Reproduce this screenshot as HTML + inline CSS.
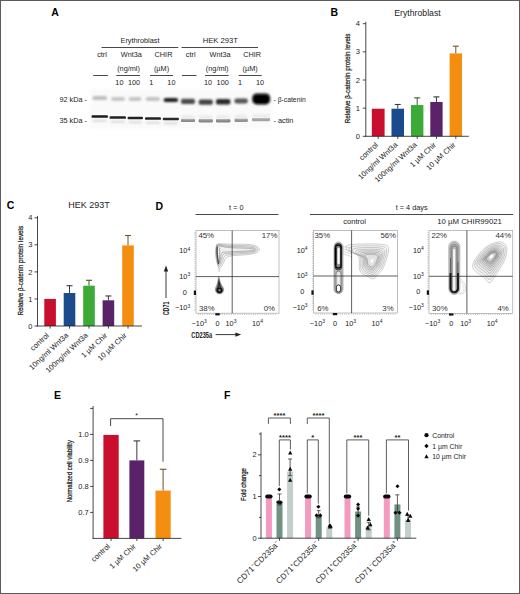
<!DOCTYPE html>
<html><head><meta charset="utf-8"><title>Figure</title>
<style>
html,body{margin:0;padding:0;background:#fff;}
body{width:520px;height:594px;overflow:hidden;font-family:"Liberation Sans",sans-serif;}
svg{display:block;font-family:"Liberation Sans",sans-serif;}
</style></head><body>
<svg width="520" height="594" viewBox="0 0 520 594">
<defs>
<filter id="b0" x="-5%" y="-5%" width="110%" height="110%"><feGaussianBlur stdDeviation="0.15"/></filter>
<filter id="b3" x="-30%" y="-10%" width="160%" height="120%"><feGaussianBlur stdDeviation="0.45"/></filter>
<filter id="b4" x="-20%" y="-80%" width="140%" height="260%"><feGaussianBlur stdDeviation="0.7"/></filter>
<filter id="b5" x="-40%" y="-10%" width="180%" height="120%"><feGaussianBlur stdDeviation="0.3"/></filter>
<filter id="b1" x="-20%" y="-60%" width="140%" height="220%"><feGaussianBlur stdDeviation="0.9"/></filter>
<filter id="b2" x="-5%" y="-10%" width="110%" height="120%"><feGaussianBlur stdDeviation="1.5"/></filter>
</defs>
<rect x="0.5" y="0.5" width="519" height="593" fill="#fff" stroke="#5a5a5a" stroke-width="1"/>
<line x1="5.50" y1="8.00" x2="5.50" y2="586.00" stroke="#f8f8f8" stroke-width="1" />
<line x1="514.50" y1="8.00" x2="514.50" y2="586.00" stroke="#f8f8f8" stroke-width="1" />
<text x="51.30" y="16.00" font-size="10.5" text-anchor="start" font-weight="bold" fill="#000" >A</text>
<text x="330.60" y="16.00" font-size="10.5" text-anchor="start" font-weight="bold" fill="#000" >B</text>
<text x="6.70" y="208.90" font-size="10.5" text-anchor="start" font-weight="bold" fill="#000" >C</text>
<text x="155.60" y="209.50" font-size="10.5" text-anchor="start" font-weight="bold" fill="#000" >D</text>
<text x="54.10" y="399.40" font-size="10.5" text-anchor="start" font-weight="bold" fill="#000" >E</text>
<text x="224.10" y="399.40" font-size="10.5" text-anchor="start" font-weight="bold" fill="#000" >F</text>
<text x="140.00" y="43.30" font-size="7.3" text-anchor="middle" font-weight="normal" fill="#1c1c1c" >Erythroblast</text>
<text x="220.30" y="43.30" font-size="7.6" text-anchor="middle" font-weight="normal" fill="#1c1c1c" >HEK 293T</text>
<line x1="101.50" y1="47.50" x2="178.20" y2="47.50" stroke="#1a1a1a" stroke-width="0.8" />
<line x1="181.50" y1="47.50" x2="258.00" y2="47.50" stroke="#1a1a1a" stroke-width="0.8" />
<text x="102.00" y="57.20" font-size="7.3" text-anchor="middle" font-weight="normal" fill="#1c1c1c" >ctrl</text>
<text x="131.40" y="57.20" font-size="7.3" text-anchor="middle" font-weight="normal" fill="#1c1c1c" >Wnt3a</text>
<text x="163.50" y="57.20" font-size="7.3" text-anchor="middle" font-weight="normal" fill="#1c1c1c" >CHIR</text>
<text x="128.50" y="71.00" font-size="7.3" text-anchor="middle" font-weight="normal" fill="#1c1c1c" >(ng/ml)</text>
<text x="161.50" y="71.00" font-size="7.3" text-anchor="middle" font-weight="normal" fill="#1c1c1c" >(µM)</text>
<line x1="93.20" y1="75.50" x2="107.80" y2="75.50" stroke="#1a1a1a" stroke-width="0.8" />
<line x1="116.30" y1="75.50" x2="140.00" y2="75.50" stroke="#1a1a1a" stroke-width="0.8" />
<line x1="150.00" y1="75.50" x2="173.00" y2="75.50" stroke="#1a1a1a" stroke-width="0.8" />
<text x="119.40" y="84.70" font-size="7.3" text-anchor="middle" font-weight="normal" fill="#1c1c1c" >10</text>
<text x="134.00" y="84.70" font-size="7.3" text-anchor="middle" font-weight="normal" fill="#1c1c1c" >100</text>
<text x="151.40" y="84.70" font-size="7.3" text-anchor="middle" font-weight="normal" fill="#1c1c1c" >1</text>
<text x="171.40" y="84.70" font-size="7.3" text-anchor="middle" font-weight="normal" fill="#1c1c1c" >10</text>
<text x="190.70" y="57.20" font-size="7.3" text-anchor="middle" font-weight="normal" fill="#1c1c1c" >ctrl</text>
<text x="220.10" y="57.20" font-size="7.3" text-anchor="middle" font-weight="normal" fill="#1c1c1c" >Wnt3a</text>
<text x="252.20" y="57.20" font-size="7.3" text-anchor="middle" font-weight="normal" fill="#1c1c1c" >CHIR</text>
<text x="217.20" y="71.00" font-size="7.3" text-anchor="middle" font-weight="normal" fill="#1c1c1c" >(ng/ml)</text>
<text x="250.20" y="71.00" font-size="7.3" text-anchor="middle" font-weight="normal" fill="#1c1c1c" >(µM)</text>
<line x1="181.90" y1="75.50" x2="196.50" y2="75.50" stroke="#1a1a1a" stroke-width="0.8" />
<line x1="205.00" y1="75.50" x2="228.70" y2="75.50" stroke="#1a1a1a" stroke-width="0.8" />
<line x1="238.70" y1="75.50" x2="261.70" y2="75.50" stroke="#1a1a1a" stroke-width="0.8" />
<text x="208.10" y="84.70" font-size="7.3" text-anchor="middle" font-weight="normal" fill="#1c1c1c" >10</text>
<text x="222.70" y="84.70" font-size="7.3" text-anchor="middle" font-weight="normal" fill="#1c1c1c" >100</text>
<text x="240.10" y="84.70" font-size="7.3" text-anchor="middle" font-weight="normal" fill="#1c1c1c" >1</text>
<text x="260.10" y="84.70" font-size="7.3" text-anchor="middle" font-weight="normal" fill="#1c1c1c" >10</text>
<text x="87.00" y="102.30" font-size="7.3" text-anchor="end" font-weight="normal" fill="#1c1c1c" >92 kDa -</text>
<text x="87.00" y="122.60" font-size="7.3" text-anchor="end" font-weight="normal" fill="#1c1c1c" >35 kDa -</text>
<text x="273.50" y="102.20" font-size="7.3" text-anchor="start" font-weight="normal" fill="#1c1c1c" textLength="32.2" lengthAdjust="spacingAndGlyphs">- β-catenin</text>
<text x="273.50" y="123.00" font-size="7.3" text-anchor="start" font-weight="normal" fill="#1c1c1c" >- actin</text>
<rect x="90" y="89" width="182" height="40" fill="#fafafa" filter="url(#b2)"/>
<rect x="92.5" y="96.0" width="14.5" height="4.0" rx="1.8" fill="#bebebe" filter="url(#b1)"/>
<rect x="111" y="97.1" width="14" height="3.8" rx="1.8" fill="#c6c6c6" filter="url(#b1)"/>
<rect x="128.7" y="97.1" width="12.800000000000011" height="3.8" rx="1.8" fill="#c4c4c4" filter="url(#b1)"/>
<rect x="145.7" y="97.1" width="14.300000000000011" height="3.8" rx="1.8" fill="#c2c2c2" filter="url(#b1)"/>
<rect x="163.7" y="98.0" width="14.300000000000011" height="4.0" rx="1.8" fill="#1e1e1e" filter="url(#b1)"/>
<rect x="181" y="98.80000000000001" width="14" height="5.2" rx="1.8" fill="#4c4c4c" filter="url(#b1)"/>
<rect x="198.7" y="99.60000000000001" width="14.100000000000023" height="5.2" rx="1.8" fill="#424242" filter="url(#b1)"/>
<rect x="216" y="99.1" width="14.400000000000006" height="5.4" rx="1.8" fill="#2c2c2c" filter="url(#b1)"/>
<rect x="234.5" y="98.6" width="13.300000000000011" height="4.8" rx="1.8" fill="#555" filter="url(#b1)"/>
<rect x="252.2" y="93.4" width="18" height="11.0" rx="4.5" fill="#0a0a0a" filter="url(#b1)"/>
<rect x="254.5" y="96.0" width="13.4" height="6.4" rx="3" fill="#000" filter="url(#b4)"/>
<rect x="91.5" y="115.35" width="16.5" height="2.5" rx="1.2" fill="#1c1c1c" filter="url(#b4)"/>
<rect x="92.5" y="119.8" width="14.5" height="2" rx="1" fill="#d8d8d8" filter="url(#b1)"/>
<rect x="109.5" y="116.35" width="16.5" height="2.5" rx="1.2" fill="#202020" filter="url(#b4)"/>
<rect x="110.5" y="120.8" width="14.5" height="2" rx="1" fill="#d8d8d8" filter="url(#b1)"/>
<rect x="127.5" y="116.75" width="15.5" height="2.5" rx="1.2" fill="#202020" filter="url(#b4)"/>
<rect x="128.5" y="121.2" width="13.5" height="2" rx="1" fill="#d8d8d8" filter="url(#b1)"/>
<rect x="145" y="117.35" width="16" height="2.5" rx="1.2" fill="#242424" filter="url(#b4)"/>
<rect x="146" y="121.8" width="14" height="2" rx="1" fill="#d8d8d8" filter="url(#b1)"/>
<rect x="162.7" y="117.75" width="16.30000000000001" height="2.5" rx="1.2" fill="#2a2a2a" filter="url(#b4)"/>
<rect x="163.7" y="122.2" width="14.300000000000011" height="2" rx="1" fill="#d8d8d8" filter="url(#b1)"/>
<rect x="181" y="118.7" width="14" height="3.4" rx="1.2" fill="#8a8a8a" filter="url(#b4)"/>
<rect x="181" y="114.9" width="14" height="4" rx="2" fill="#ececec" filter="url(#b1)"/>
<rect x="198.7" y="119.1" width="14.100000000000023" height="3.4" rx="1.2" fill="#858585" filter="url(#b4)"/>
<rect x="198.7" y="115.3" width="14.100000000000023" height="4" rx="2" fill="#ececec" filter="url(#b1)"/>
<rect x="216" y="119.1" width="14.400000000000006" height="3.4" rx="1.2" fill="#838383" filter="url(#b4)"/>
<rect x="216" y="115.3" width="14.400000000000006" height="4" rx="2" fill="#ececec" filter="url(#b1)"/>
<rect x="234.5" y="118.5" width="13.300000000000011" height="3.4" rx="1.2" fill="#909090" filter="url(#b4)"/>
<rect x="234.5" y="114.7" width="13.300000000000011" height="4" rx="2" fill="#ececec" filter="url(#b1)"/>
<rect x="252" y="118.0" width="18" height="3.2" rx="1.2" fill="#a2a2a2" filter="url(#b4)"/>
<rect x="252" y="114.1" width="18" height="4" rx="2" fill="#ececec" filter="url(#b1)"/>
<rect x="371.80" y="108.71" width="12.80" height="27.59" fill="#c8102e" />
<line x1="397.75" y1="108.71" x2="397.75" y2="104.49" stroke="#2f3d51" stroke-width="1.0" />
<line x1="394.75" y1="104.49" x2="400.75" y2="104.49" stroke="#2f3d51" stroke-width="1.1" />
<rect x="391.50" y="108.71" width="12.50" height="27.59" fill="#1b4b8c" />
<line x1="417.20" y1="105.05" x2="417.20" y2="97.88" stroke="#395a37" stroke-width="1.0" />
<line x1="414.20" y1="97.88" x2="420.20" y2="97.88" stroke="#395a37" stroke-width="1.1" />
<rect x="411.00" y="105.05" width="12.40" height="31.25" fill="#3caa37" />
<line x1="436.45" y1="101.96" x2="436.45" y2="96.89" stroke="#423146" stroke-width="1.0" />
<line x1="433.45" y1="96.89" x2="439.45" y2="96.89" stroke="#423146" stroke-width="1.1" />
<rect x="430.30" y="101.96" width="12.30" height="34.34" fill="#5a2369" />
<line x1="455.80" y1="53.40" x2="455.80" y2="46.22" stroke="#70512b" stroke-width="1.0" />
<line x1="452.80" y1="46.22" x2="458.80" y2="46.22" stroke="#70512b" stroke-width="1.1" />
<rect x="449.60" y="53.40" width="12.40" height="82.90" fill="#f48e10" />
<line x1="365.80" y1="21.80" x2="365.80" y2="136.70" stroke="#1a1a1a" stroke-width="0.8" />
<line x1="365.40" y1="136.30" x2="468.80" y2="136.30" stroke="#1a1a1a" stroke-width="0.8" />
<line x1="362.80" y1="136.30" x2="365.80" y2="136.30" stroke="#1a1a1a" stroke-width="0.8" />
<text x="359.80" y="138.90" font-size="7.5" text-anchor="end" font-weight="normal" fill="#1c1c1c" >0</text>
<line x1="362.80" y1="108.15" x2="365.80" y2="108.15" stroke="#1a1a1a" stroke-width="0.8" />
<text x="359.80" y="110.75" font-size="7.5" text-anchor="end" font-weight="normal" fill="#1c1c1c" >1</text>
<line x1="362.80" y1="80.00" x2="365.80" y2="80.00" stroke="#1a1a1a" stroke-width="0.8" />
<text x="359.80" y="82.60" font-size="7.5" text-anchor="end" font-weight="normal" fill="#1c1c1c" >2</text>
<line x1="362.80" y1="51.85" x2="365.80" y2="51.85" stroke="#1a1a1a" stroke-width="0.8" />
<text x="359.80" y="54.45" font-size="7.5" text-anchor="end" font-weight="normal" fill="#1c1c1c" >3</text>
<line x1="362.80" y1="23.70" x2="365.80" y2="23.70" stroke="#1a1a1a" stroke-width="0.8" />
<text x="359.80" y="26.30" font-size="7.5" text-anchor="end" font-weight="normal" fill="#1c1c1c" >4</text>
<line x1="378.20" y1="136.30" x2="378.20" y2="138.90" stroke="#1a1a1a" stroke-width="0.8" />
<text transform="translate(378.40,145.50) rotate(-43) scale(1.0,1)" font-size="7.5" text-anchor="end" font-weight="normal" fill="#1c1c1c">control</text>
<line x1="397.75" y1="136.30" x2="397.75" y2="138.90" stroke="#1a1a1a" stroke-width="0.8" />
<text transform="translate(397.95,145.50) rotate(-43) scale(1.0,1)" font-size="7.5" text-anchor="end" font-weight="normal" fill="#1c1c1c">10ng/ml Wnt3a</text>
<line x1="417.20" y1="136.30" x2="417.20" y2="138.90" stroke="#1a1a1a" stroke-width="0.8" />
<text transform="translate(417.40,145.50) rotate(-43) scale(1.0,1)" font-size="7.5" text-anchor="end" font-weight="normal" fill="#1c1c1c">100ng/ml Wnt3a</text>
<line x1="436.45" y1="136.30" x2="436.45" y2="138.90" stroke="#1a1a1a" stroke-width="0.8" />
<text transform="translate(436.65,145.50) rotate(-43) scale(1.0,1)" font-size="7.5" text-anchor="end" font-weight="normal" fill="#1c1c1c">1 µM Chir</text>
<line x1="455.80" y1="136.30" x2="455.80" y2="138.90" stroke="#1a1a1a" stroke-width="0.8" />
<text transform="translate(456.00,145.50) rotate(-43) scale(1.0,1)" font-size="7.5" text-anchor="end" font-weight="normal" fill="#1c1c1c">10 µM Chir</text>
<text x="417.50" y="15.80" font-size="8.7" text-anchor="middle" font-weight="normal" fill="#1c1c1c" >Erythroblast</text>
<text transform="translate(350.40,78.40) rotate(-90) scale(0.856,1)" font-size="7.4" text-anchor="middle" font-weight="normal" fill="#1c1c1c" stroke="#1c1c1c" stroke-width="0.25">Relative β-catenin protein levels</text>
<rect x="44.30" y="298.95" width="11.60" height="27.05" fill="#c8102e" />
<line x1="69.50" y1="293.00" x2="69.50" y2="285.70" stroke="#2f3d51" stroke-width="1.0" />
<line x1="66.50" y1="285.70" x2="72.50" y2="285.70" stroke="#2f3d51" stroke-width="1.1" />
<rect x="63.70" y="293.00" width="11.60" height="33.00" fill="#1b4b8c" />
<line x1="89.00" y1="285.70" x2="89.00" y2="280.29" stroke="#395a37" stroke-width="1.0" />
<line x1="86.00" y1="280.29" x2="92.00" y2="280.29" stroke="#395a37" stroke-width="1.1" />
<rect x="83.20" y="285.70" width="11.60" height="40.30" fill="#3caa37" />
<line x1="108.40" y1="300.30" x2="108.40" y2="295.97" stroke="#423146" stroke-width="1.0" />
<line x1="105.40" y1="295.97" x2="111.40" y2="295.97" stroke="#423146" stroke-width="1.1" />
<rect x="102.60" y="300.30" width="11.60" height="25.70" fill="#5a2369" />
<line x1="128.00" y1="245.39" x2="128.00" y2="235.52" stroke="#70512b" stroke-width="1.0" />
<line x1="125.00" y1="235.52" x2="131.00" y2="235.52" stroke="#70512b" stroke-width="1.1" />
<rect x="122.20" y="245.39" width="11.60" height="80.61" fill="#f48e10" />
<line x1="37.50" y1="215.90" x2="37.50" y2="326.40" stroke="#1a1a1a" stroke-width="0.8" />
<line x1="37.10" y1="326.00" x2="142.00" y2="326.00" stroke="#1a1a1a" stroke-width="0.8" />
<line x1="34.50" y1="326.00" x2="37.50" y2="326.00" stroke="#1a1a1a" stroke-width="0.8" />
<text x="32.50" y="328.60" font-size="7.5" text-anchor="end" font-weight="normal" fill="#1c1c1c" >0</text>
<line x1="34.50" y1="298.95" x2="37.50" y2="298.95" stroke="#1a1a1a" stroke-width="0.8" />
<text x="32.50" y="301.55" font-size="7.5" text-anchor="end" font-weight="normal" fill="#1c1c1c" >1</text>
<line x1="34.50" y1="271.90" x2="37.50" y2="271.90" stroke="#1a1a1a" stroke-width="0.8" />
<text x="32.50" y="274.50" font-size="7.5" text-anchor="end" font-weight="normal" fill="#1c1c1c" >2</text>
<line x1="34.50" y1="244.85" x2="37.50" y2="244.85" stroke="#1a1a1a" stroke-width="0.8" />
<text x="32.50" y="247.45" font-size="7.5" text-anchor="end" font-weight="normal" fill="#1c1c1c" >3</text>
<line x1="34.50" y1="217.80" x2="37.50" y2="217.80" stroke="#1a1a1a" stroke-width="0.8" />
<text x="32.50" y="220.40" font-size="7.5" text-anchor="end" font-weight="normal" fill="#1c1c1c" >4</text>
<line x1="50.10" y1="326.00" x2="50.10" y2="328.60" stroke="#1a1a1a" stroke-width="0.8" />
<text transform="translate(49.50,336.00) rotate(-43) scale(1.0,1)" font-size="7.5" text-anchor="end" font-weight="normal" fill="#1c1c1c">control</text>
<line x1="69.50" y1="326.00" x2="69.50" y2="328.60" stroke="#1a1a1a" stroke-width="0.8" />
<text transform="translate(68.90,336.00) rotate(-43) scale(1.0,1)" font-size="7.5" text-anchor="end" font-weight="normal" fill="#1c1c1c">10ng/ml Wnt3a</text>
<line x1="89.00" y1="326.00" x2="89.00" y2="328.60" stroke="#1a1a1a" stroke-width="0.8" />
<text transform="translate(88.40,336.00) rotate(-43) scale(1.0,1)" font-size="7.5" text-anchor="end" font-weight="normal" fill="#1c1c1c">100ng/ml Wnt3a</text>
<line x1="108.40" y1="326.00" x2="108.40" y2="328.60" stroke="#1a1a1a" stroke-width="0.8" />
<text transform="translate(107.80,336.00) rotate(-43) scale(1.0,1)" font-size="7.5" text-anchor="end" font-weight="normal" fill="#1c1c1c">1 µM Chir</text>
<line x1="128.00" y1="326.00" x2="128.00" y2="328.60" stroke="#1a1a1a" stroke-width="0.8" />
<text transform="translate(127.40,336.00) rotate(-43) scale(1.0,1)" font-size="7.5" text-anchor="end" font-weight="normal" fill="#1c1c1c">10 µM Chir</text>
<text x="89.00" y="208.30" font-size="9.0" text-anchor="middle" font-weight="normal" fill="#1c1c1c" >HEK 293T</text>
<text transform="translate(22.50,270.70) rotate(-90) scale(0.856,1)" font-size="7.4" text-anchor="middle" font-weight="normal" fill="#1c1c1c" stroke="#1c1c1c" stroke-width="0.25">Relative β-catenin protein levels</text>
<rect x="103.40" y="434.92" width="15.30" height="103.48" fill="#c8102e" />
<line x1="136.85" y1="460.40" x2="136.85" y2="440.90" stroke="#423146" stroke-width="1.0" />
<line x1="133.60" y1="440.90" x2="140.10" y2="440.90" stroke="#423146" stroke-width="1.1" />
<rect x="129.40" y="460.40" width="14.90" height="78.00" fill="#5a2369" />
<line x1="163.10" y1="490.56" x2="163.10" y2="469.24" stroke="#70512b" stroke-width="1.0" />
<line x1="159.85" y1="469.24" x2="166.35" y2="469.24" stroke="#70512b" stroke-width="1.1" />
<rect x="155.50" y="490.56" width="15.20" height="47.84" fill="#f48e10" />
<line x1="93.10" y1="406.00" x2="93.10" y2="538.80" stroke="#1a1a1a" stroke-width="0.8" />
<line x1="92.70" y1="538.40" x2="181.40" y2="538.40" stroke="#1a1a1a" stroke-width="0.8" />
<line x1="90.10" y1="512.40" x2="93.10" y2="512.40" stroke="#1a1a1a" stroke-width="0.8" />
<text x="88.70" y="515.00" font-size="7.5" text-anchor="end" font-weight="normal" fill="#1c1c1c" >0.7</text>
<line x1="90.10" y1="486.40" x2="93.10" y2="486.40" stroke="#1a1a1a" stroke-width="0.8" />
<text x="88.70" y="489.00" font-size="7.5" text-anchor="end" font-weight="normal" fill="#1c1c1c" >0.8</text>
<line x1="90.10" y1="460.40" x2="93.10" y2="460.40" stroke="#1a1a1a" stroke-width="0.8" />
<text x="88.70" y="463.00" font-size="7.5" text-anchor="end" font-weight="normal" fill="#1c1c1c" >0.9</text>
<line x1="90.10" y1="434.40" x2="93.10" y2="434.40" stroke="#1a1a1a" stroke-width="0.8" />
<text x="88.70" y="437.00" font-size="7.5" text-anchor="end" font-weight="normal" fill="#1c1c1c" >1.0</text>
<line x1="90.10" y1="408.40" x2="93.10" y2="408.40" stroke="#1a1a1a" stroke-width="0.8" />
<line x1="111.05" y1="538.40" x2="111.05" y2="541.00" stroke="#1a1a1a" stroke-width="0.8" />
<text transform="translate(110.45,547.00) rotate(-43) scale(1.0,1)" font-size="7.5" text-anchor="end" font-weight="normal" fill="#1c1c1c">control</text>
<line x1="136.85" y1="538.40" x2="136.85" y2="541.00" stroke="#1a1a1a" stroke-width="0.8" />
<text transform="translate(136.25,547.00) rotate(-43) scale(1.0,1)" font-size="7.5" text-anchor="end" font-weight="normal" fill="#1c1c1c">1 µM Chir</text>
<line x1="163.10" y1="538.40" x2="163.10" y2="541.00" stroke="#1a1a1a" stroke-width="0.8" />
<text transform="translate(162.50,547.00) rotate(-43) scale(1.0,1)" font-size="7.5" text-anchor="end" font-weight="normal" fill="#1c1c1c">10 µM Chir</text>
<text transform="translate(72.00,471.20) rotate(-90) scale(0.81,1)" font-size="7.4" text-anchor="middle" font-weight="normal" fill="#1c1c1c" stroke="#1c1c1c" stroke-width="0.25">Normalized cell viability</text>
<path d="M110.6 426 V418.7 H163 V461.7" fill="none" stroke="#333" stroke-width="0.9"/>
<text x="136.70" y="418.20" font-size="7" text-anchor="middle" font-weight="normal" fill="#1c1c1c" >*</text>
<text x="236.30" y="210.00" font-size="7.3" text-anchor="middle" font-weight="normal" fill="#1c1c1c" >t = 0</text>
<line x1="195.50" y1="214.50" x2="278.50" y2="214.50" stroke="#1a1a1a" stroke-width="0.8" />
<text x="411.70" y="210.00" font-size="7.3" text-anchor="middle" font-weight="normal" fill="#1c1c1c" >t = 4 days</text>
<line x1="310.00" y1="214.50" x2="513.20" y2="214.50" stroke="#1a1a1a" stroke-width="0.8" />
<text x="354.60" y="224.40" font-size="7.6" text-anchor="middle" font-weight="normal" fill="#1c1c1c" >control</text>
<text x="469.60" y="224.40" font-size="7.8" text-anchor="middle" font-weight="normal" fill="#1c1c1c" >10 µM CHIR99021</text>
<g filter="url(#b0)">
<path d="M216.20 246.00 C216.68 244.30 216.20 244.10 218.50 243.80 C220.80 243.50 225.58 244.12 230.00 244.20 C234.42 244.28 240.83 244.08 245.00 244.30 C249.17 244.52 252.60 244.65 255.00 245.50 C257.40 246.35 259.40 248.12 259.40 249.40 C259.40 250.68 257.40 252.30 255.00 253.20 C252.60 254.10 248.83 254.37 245.00 254.80 C241.17 255.23 235.17 255.27 232.00 255.80 C228.83 256.33 227.43 256.80 226.00 258.00 C224.57 259.20 224.50 261.27 223.40 263.00 C222.30 264.73 220.50 268.57 219.40 268.40 C218.30 268.23 217.43 264.40 216.80 262.00 C216.17 259.60 215.70 256.67 215.60 254.00 C215.50 251.33 215.72 247.70 216.20 246.00Z" fill="rgba(120,120,120,0.03)" stroke="#989898" stroke-width="0.50"/>
<path d="M216.55 246.50 C216.96 245.00 216.37 244.70 218.53 244.50 C220.68 244.30 225.21 245.12 229.50 245.30 C233.79 245.48 240.21 245.37 244.25 245.58 C248.29 245.78 251.49 245.88 253.75 246.53 C256.01 247.17 257.80 248.48 257.80 249.45 C257.80 250.42 256.01 251.66 253.75 252.35 C251.49 253.04 248.04 253.24 244.25 253.60 C240.46 253.96 234.27 254.06 231.00 254.50 C227.73 254.94 226.08 255.12 224.65 256.25 C223.22 257.38 223.36 259.49 222.45 261.25 C221.54 263.01 220.10 266.88 219.20 266.80 C218.30 266.72 217.58 262.97 217.05 260.75 C216.53 258.53 216.13 255.88 216.05 253.50 C215.97 251.12 216.14 248.00 216.55 246.50Z" fill="rgba(120,120,120,0.03)" stroke="#8a8a8a" stroke-width="0.50"/>
<path d="M216.90 247.00 C217.24 245.70 216.53 245.30 218.55 245.20 C220.57 245.10 224.84 246.12 229.00 246.40 C233.16 246.67 239.58 246.66 243.50 246.85 C247.42 247.04 250.38 247.11 252.50 247.55 C254.62 247.99 256.20 248.84 256.20 249.50 C256.20 250.16 254.62 251.02 252.50 251.50 C250.38 251.98 247.25 252.12 243.50 252.40 C239.75 252.68 233.37 252.85 230.00 253.20 C226.63 253.55 224.72 253.45 223.30 254.50 C221.88 255.55 222.22 257.72 221.50 259.50 C220.78 261.28 219.70 265.20 219.00 265.20 C218.30 265.20 217.72 261.53 217.30 259.50 C216.88 257.47 216.57 255.08 216.50 253.00 C216.43 250.92 216.56 248.30 216.90 247.00Z" fill="rgba(120,120,120,0.03)" stroke="#7d7d7d" stroke-width="0.50"/>
<path d="M217.25 247.50 C217.52 246.40 216.70 245.90 218.57 245.90 C220.45 245.90 224.47 247.13 228.50 247.50 C232.53 247.87 238.96 247.95 242.75 248.12 C246.54 248.30 249.28 248.34 251.25 248.57 C253.22 248.81 254.60 249.20 254.60 249.55 C254.60 249.90 253.22 250.38 251.25 250.65 C249.28 250.93 246.46 250.99 242.75 251.20 C239.04 251.41 232.47 251.64 229.00 251.90 C225.53 252.16 223.36 251.78 221.95 252.75 C220.54 253.72 221.08 255.94 220.55 257.75 C220.03 259.56 219.30 263.52 218.80 263.60 C218.30 263.68 217.86 260.10 217.55 258.25 C217.24 256.40 217.00 254.29 216.95 252.50 C216.90 250.71 216.98 248.60 217.25 247.50Z" fill="rgba(120,120,120,0.03)" stroke="#707070" stroke-width="0.50"/>
<path d="M217.4 246.5 C216.8 252 217.4 258 218.6 264" fill="none" stroke="#333" stroke-width="1.5" opacity="0.75"/>
<path d="M219.6 247.5 C219.4 252 219.8 257 219.6 262" fill="none" stroke="#666" stroke-width="0.8" opacity="0.6"/>
<path d="M218.6 268 L218.9 272 M219.6 268 L219.3 272" fill="none" stroke="#bbb" stroke-width="0.5"/>
<path d="M218.70 276.60 C219.00 276.60 219.32 279.60 219.80 281.00 C220.28 282.40 220.95 283.67 221.60 285.00 C222.25 286.33 223.52 287.73 223.70 289.00 C223.88 290.27 223.40 291.78 222.70 292.60 C222.00 293.42 220.57 293.90 219.50 293.90 C218.43 293.90 217.00 293.42 216.30 292.60 C215.60 291.78 215.22 290.27 215.30 289.00 C215.38 287.73 216.35 286.33 216.80 285.00 C217.25 283.67 217.68 282.40 218.00 281.00 C218.32 279.60 218.40 276.60 218.70 276.60Z" fill="rgba(40,40,40,0.16)" stroke="#909090" stroke-width="0.65"/>
<path d="M218.79 278.11 C219.04 278.11 219.31 280.83 219.73 282.08 C220.14 283.33 220.71 284.45 221.28 285.63 C221.84 286.81 222.94 288.07 223.11 289.18 C223.27 290.29 222.85 291.60 222.25 292.31 C221.65 293.02 220.42 293.45 219.50 293.45 C218.58 293.45 217.35 293.02 216.75 292.31 C216.15 291.60 215.82 290.29 215.89 289.18 C215.97 288.07 216.81 286.81 217.20 285.63 C217.58 284.45 217.95 283.33 218.22 282.08 C218.48 280.83 218.54 278.11 218.79 278.11Z" fill="rgba(40,40,40,0.16)" stroke="#747474" stroke-width="0.71"/>
<path d="M218.88 279.62 C219.08 279.62 219.31 282.05 219.66 283.16 C220.00 284.27 220.48 285.23 220.95 286.26 C221.43 287.29 222.37 288.40 222.51 289.36 C222.65 290.32 222.30 291.42 221.80 292.02 C221.30 292.63 220.27 293.00 219.50 293.00 C218.73 293.00 217.70 292.63 217.20 292.02 C216.70 291.42 216.42 290.32 216.49 289.36 C216.55 288.40 217.27 287.29 217.59 286.26 C217.92 285.23 218.22 284.27 218.43 283.16 C218.65 282.05 218.68 279.62 218.88 279.62Z" fill="rgba(40,40,40,0.16)" stroke="#585858" stroke-width="0.78"/>
<path d="M218.97 281.14 C219.13 281.14 219.31 283.28 219.58 284.24 C219.86 285.20 220.24 286.01 220.63 286.89 C221.02 287.77 221.80 288.73 221.92 289.54 C222.04 290.35 221.75 291.23 221.35 291.74 C220.95 292.24 220.12 292.55 219.50 292.55 C218.88 292.55 218.05 292.24 217.65 291.74 C217.25 291.23 217.03 290.35 217.08 289.54 C217.14 288.73 217.73 287.77 217.99 286.89 C218.25 286.01 218.48 285.20 218.65 284.24 C218.81 283.28 218.81 281.14 218.97 281.14Z" fill="rgba(40,40,40,0.16)" stroke="#3c3c3c" stroke-width="0.84"/>
<path d="M219.06 282.65 C219.17 282.65 219.30 284.51 219.51 285.32 C219.72 286.13 220.00 286.79 220.30 287.52 C220.61 288.25 221.22 289.07 221.32 289.72 C221.42 290.37 221.20 291.05 220.90 291.45 C220.60 291.84 219.97 292.10 219.50 292.10 C219.03 292.10 218.40 291.84 218.10 291.45 C217.80 291.05 217.63 290.37 217.68 289.72 C217.72 289.07 218.19 288.25 218.38 287.52 C218.58 286.79 218.75 286.13 218.86 285.32 C218.98 284.51 218.95 282.65 219.06 282.65Z" fill="rgba(40,40,40,0.16)" stroke="#202020" stroke-width="0.90"/>
<ellipse cx="219.5" cy="290.2" rx="2.2" ry="2.0" fill="none" stroke="#0a0a0a" stroke-width="1.5" opacity="0.9"/>
</g>
<rect x="196.0" y="230.6" width="83.0" height="82.6" fill="none" stroke="#a6a6a6" stroke-width="0.7"/>
<line x1="195.0" y1="232.6" x2="195.0" y2="311.2" stroke="#aaa" stroke-width="1.4" stroke-dasharray="0.6 1.6"/>
<line x1="198.0" y1="314.2" x2="277.0" y2="314.2" stroke="#aaa" stroke-width="1.4" stroke-dasharray="0.6 1.6"/>
<line x1="232.20" y1="230.60" x2="232.20" y2="313.20" stroke="#2a2a2a" stroke-width="0.75" />
<line x1="196.00" y1="276.60" x2="279.00" y2="276.60" stroke="#2a2a2a" stroke-width="0.75" />
<text x="198.40" y="238.00" font-size="7.8" text-anchor="start" font-weight="normal" fill="#333" >45%</text>
<text x="277.40" y="238.00" font-size="7.8" text-anchor="end" font-weight="normal" fill="#333" >17%</text>
<text x="199.00" y="311.20" font-size="7.8" text-anchor="start" font-weight="normal" fill="#333" >38%</text>
<text x="275.00" y="311.20" font-size="7.8" text-anchor="end" font-weight="normal" fill="#333" >0%</text>
<text x="190.20" y="253.20" font-size="7.3" text-anchor="end" font-weight="normal" fill="#1c1c1c" >10<tspan dy="-2.6" font-size="5">4</tspan></text>
<text x="190.20" y="278.80" font-size="7.3" text-anchor="end" font-weight="normal" fill="#1c1c1c" >10<tspan dy="-2.6" font-size="5">3</tspan></text>
<text x="186.80" y="294.60" font-size="7.3" text-anchor="end" font-weight="normal" fill="#1c1c1c" >0</text>
<text x="190.20" y="310.20" font-size="7.3" text-anchor="end" font-weight="normal" fill="#1c1c1c" >−10<tspan dy="-2.6" font-size="5">3</tspan></text>
<text x="199.20" y="325.80" font-size="7.3" text-anchor="middle" font-weight="normal" fill="#1c1c1c" >−10<tspan dy="-2.6" font-size="5">3</tspan></text>
<text x="217.50" y="325.80" font-size="7.3" text-anchor="middle" font-weight="normal" fill="#1c1c1c" >0</text>
<text x="231.00" y="325.80" font-size="7.3" text-anchor="middle" font-weight="normal" fill="#1c1c1c" >10<tspan dy="-2.6" font-size="5">3</tspan></text>
<text x="257.50" y="325.80" font-size="7.3" text-anchor="middle" font-weight="normal" fill="#1c1c1c" >10<tspan dy="-2.6" font-size="5">4</tspan></text>
<rect x="193.80" y="290.60" width="2.20" height="4.40" fill="#111" />
<rect x="215.30" y="313.20" width="4.40" height="2.20" fill="#111" />
<g filter="url(#b0)">
<path d="M346.60 245.80 C347.80 244.97 350.18 244.72 353.80 244.40 C357.42 244.08 363.48 243.90 368.30 243.90 C373.12 243.90 379.42 243.97 382.70 244.40 C385.98 244.83 387.03 245.42 388.00 246.50 C388.97 247.58 388.78 248.73 388.50 250.90 C388.22 253.07 387.27 256.50 386.30 259.50 C385.33 262.50 384.02 266.50 382.70 268.90 C381.38 271.30 379.97 272.27 378.40 273.90 C376.83 275.53 374.98 278.22 373.30 278.70 C371.62 279.18 370.22 277.72 368.30 276.80 C366.38 275.88 363.30 274.63 361.80 273.20 C360.30 271.77 359.72 270.48 359.30 268.20 C358.88 265.92 359.60 261.67 359.30 259.50 C359.00 257.33 358.88 256.40 357.50 255.20 C356.12 254.00 352.82 253.27 351.00 252.30 C349.18 251.33 347.33 250.48 346.60 249.40 C345.87 248.32 345.40 246.63 346.60 245.80Z" fill="rgba(130,130,130,0.035)" stroke="#9c9c9c" stroke-width="0.50"/>
<path d="M349.81 247.42 C350.86 246.69 352.92 246.45 356.08 246.17 C359.24 245.89 364.55 245.71 368.76 245.72 C372.98 245.72 378.50 245.80 381.39 246.20 C384.29 246.60 385.24 247.13 386.11 248.10 C386.98 249.08 386.84 250.10 386.60 252.03 C386.35 253.95 385.50 257.01 384.63 259.67 C383.77 262.32 382.59 265.85 381.43 267.98 C380.26 270.11 379.04 271.00 377.65 272.44 C376.26 273.89 374.60 276.25 373.11 276.68 C371.61 277.10 370.36 275.81 368.68 275.00 C366.99 274.19 364.29 273.06 362.97 271.79 C361.65 270.52 361.13 269.39 360.75 267.36 C360.38 265.33 361.00 261.57 360.73 259.63 C360.46 257.70 360.33 256.82 359.13 255.74 C357.94 254.65 355.11 253.99 353.55 253.12 C351.99 252.26 350.40 251.49 349.78 250.54 C349.16 249.59 348.76 248.15 349.81 247.42Z" fill="rgba(130,130,130,0.035)" stroke="#989898" stroke-width="0.50"/>
<path d="M353.02 249.04 C353.92 248.42 355.66 248.19 358.36 247.94 C361.06 247.69 365.61 247.52 369.23 247.53 C372.85 247.54 377.59 247.64 380.09 248.00 C382.59 248.36 383.45 248.85 384.22 249.71 C384.99 250.57 384.90 251.46 384.69 253.15 C384.48 254.84 383.73 257.51 382.97 259.83 C382.21 262.15 381.16 265.21 380.15 267.07 C379.14 268.93 378.11 269.73 376.90 270.99 C375.69 272.25 374.22 274.28 372.91 274.65 C371.60 275.02 370.51 273.91 369.05 273.20 C367.59 272.49 365.28 271.49 364.14 270.38 C363.00 269.27 362.54 268.29 362.21 266.52 C361.88 264.75 362.39 261.48 362.15 259.77 C361.91 258.06 361.78 257.25 360.77 256.28 C359.76 255.31 357.40 254.72 356.10 253.95 C354.80 253.18 353.47 252.50 352.96 251.68 C352.45 250.86 352.12 249.66 353.02 249.04Z" fill="rgba(130,130,130,0.035)" stroke="#949494" stroke-width="0.50"/>
<path d="M356.02 250.55 C356.78 250.03 358.21 249.81 360.49 249.59 C362.76 249.37 366.60 249.21 369.66 249.22 C372.73 249.24 376.74 249.35 378.87 249.68 C381.00 250.01 381.78 250.45 382.46 251.21 C383.13 251.96 383.09 252.74 382.91 254.20 C382.74 255.66 382.07 257.98 381.42 259.98 C380.76 261.99 379.83 264.61 378.96 266.22 C378.09 267.82 377.24 268.54 376.20 269.63 C375.16 270.72 373.86 272.45 372.73 272.76 C371.59 273.07 370.65 272.14 369.40 271.52 C368.15 270.90 366.20 270.03 365.23 269.06 C364.26 268.10 363.86 267.26 363.57 265.74 C363.28 264.21 363.69 261.39 363.48 259.90 C363.27 258.40 363.13 257.65 362.30 256.78 C361.46 255.92 359.54 255.39 358.48 254.72 C357.42 254.05 356.34 253.44 355.93 252.74 C355.52 252.05 355.26 251.08 356.02 250.55Z" fill="rgba(130,130,130,0.035)" stroke="#909090" stroke-width="0.50"/>
<path d="M358.58 251.85 C359.22 251.41 360.40 251.20 362.31 251.01 C364.22 250.81 367.45 250.66 370.04 250.68 C372.62 250.69 376.01 250.82 377.83 251.12 C379.65 251.42 380.35 251.83 380.94 252.49 C381.54 253.16 381.53 253.83 381.39 255.10 C381.24 256.37 380.66 258.39 380.08 260.12 C379.51 261.85 378.69 264.09 377.94 265.48 C377.19 266.88 376.49 267.53 375.60 268.47 C374.71 269.41 373.56 270.87 372.57 271.14 C371.59 271.41 370.77 270.61 369.70 270.08 C368.63 269.55 367.00 268.77 366.17 267.94 C365.34 267.10 364.99 266.39 364.73 265.06 C364.47 263.74 364.81 261.31 364.62 260.00 C364.43 258.70 364.29 257.99 363.60 257.22 C362.92 256.45 361.38 255.97 360.52 255.38 C359.66 254.79 358.79 254.24 358.47 253.66 C358.15 253.07 357.94 252.29 358.58 251.85Z" fill="rgba(130,130,130,0.035)" stroke="#8c8c8c" stroke-width="0.50"/>
<path d="M360.94 253.04 C361.47 252.67 362.41 252.48 363.98 252.31 C365.56 252.13 368.23 251.98 370.38 252.01 C372.52 252.03 375.34 252.16 376.87 252.44 C378.40 252.72 379.04 253.09 379.56 253.67 C380.08 254.25 380.11 254.83 379.99 255.92 C379.88 257.02 379.36 258.76 378.86 260.24 C378.37 261.72 377.64 263.62 377.00 264.81 C376.37 266.01 375.81 266.59 375.05 267.40 C374.29 268.21 373.27 269.43 372.43 269.65 C371.58 269.88 370.88 269.22 369.98 268.76 C369.07 268.30 367.72 267.62 367.03 266.90 C366.33 266.18 366.03 265.58 365.80 264.45 C365.57 263.31 365.83 261.24 365.67 260.10 C365.50 258.96 365.35 258.30 364.80 257.61 C364.26 256.93 363.06 256.50 362.39 255.99 C361.72 255.47 361.05 254.98 360.80 254.49 C360.56 254.00 360.41 253.40 360.94 253.04Z" fill="rgba(130,130,130,0.035)" stroke="#888888" stroke-width="0.50"/>
<path d="M363.08 254.12 C363.51 253.82 364.24 253.64 365.50 253.49 C366.77 253.34 368.94 253.19 370.69 253.22 C372.44 253.24 374.73 253.39 376.00 253.64 C377.27 253.89 377.84 254.23 378.30 254.74 C378.75 255.24 378.81 255.74 378.72 256.68 C378.63 257.61 378.18 259.09 377.75 260.35 C377.33 261.60 376.69 263.19 376.15 264.20 C375.62 265.22 375.19 265.75 374.55 266.43 C373.91 267.11 373.02 268.12 372.30 268.31 C371.58 268.49 370.97 267.95 370.23 267.56 C369.48 267.17 368.38 266.57 367.81 265.96 C367.23 265.35 366.97 264.85 366.77 263.89 C366.57 262.93 366.76 261.18 366.62 260.19 C366.47 259.21 366.31 258.58 365.89 257.97 C365.47 257.36 364.58 256.99 364.09 256.54 C363.60 256.08 363.09 255.66 362.92 255.25 C362.76 254.85 362.65 254.41 363.08 254.12Z" fill="rgba(130,130,130,0.035)" stroke="#848484" stroke-width="0.50"/>
<path d="M365.00 255.09 C365.34 254.86 365.88 254.68 366.87 254.55 C367.87 254.42 369.57 254.28 370.97 254.31 C372.36 254.33 374.19 254.49 375.22 254.72 C376.25 254.95 376.77 255.26 377.16 255.70 C377.56 256.14 377.65 256.56 377.58 257.35 C377.51 258.14 377.12 259.40 376.75 260.45 C376.39 261.50 375.83 262.80 375.39 263.65 C374.95 264.51 374.63 264.99 374.10 265.56 C373.57 266.13 372.79 266.94 372.18 267.09 C371.57 267.24 371.06 266.81 370.45 266.48 C369.84 266.15 368.98 265.63 368.51 265.12 C368.04 264.60 367.81 264.19 367.64 263.38 C367.47 262.58 367.60 261.12 367.47 260.27 C367.34 259.43 367.18 258.84 366.87 258.30 C366.57 257.76 365.96 257.42 365.62 257.03 C365.28 256.64 364.93 256.26 364.83 255.94 C364.73 255.61 364.66 255.32 365.00 255.09Z" fill="rgba(130,130,130,0.035)" stroke="#808080" stroke-width="0.50"/>
<ellipse cx="372" cy="260.8" rx="1.3" ry="2.2" fill="#fff" transform="rotate(25 372 260.8)"/>
<path d="M342 246.4 C345 246.8 348 247.6 352 248.4" fill="none" stroke="#aaa" stroke-width="0.45"/>
<path d="M342 248.8 C345 249.3 348 250.2 352 251.2" fill="none" stroke="#aaa" stroke-width="0.45"/>
<path d="M342 251.2 C345 251.8 348 252.8 352 254.0" fill="none" stroke="#aaa" stroke-width="0.45"/>
<path d="M342 253.6 C345 254.3 348 255.4 352 256.8" fill="none" stroke="#aaa" stroke-width="0.45"/>
<g filter="url(#b3)">
<rect x="334.00" y="242.00" width="9.00" height="51.60" rx="4.50" fill="rgba(90,90,90,0.22)" stroke="#9a9a9a" stroke-width="0.7" opacity="1"/>
<rect x="334.80" y="243.20" width="7.20" height="49.80" rx="3.60" fill="rgba(60,60,60,0.15)" stroke="#777" stroke-width="0.6" opacity="1"/>
<rect x="335.10" y="243.60" width="6.50" height="26.40" rx="3.25" fill="rgba(30,30,30,0.35)" stroke="#333" stroke-width="1.0" opacity="1"/>
</g>
<g filter="url(#b5)">
<rect x="335.70" y="245.00" width="5.20" height="23.00" rx="2.60" fill="none" stroke="#0a0a0a" stroke-width="1.3" opacity="1"/>
<path d="M335.6 248 V265" stroke="#000" stroke-width="1.6" fill="none"/>
<rect x="337.60" y="248.00" width="2.00" height="16.00" rx="1.00" fill="#fff" stroke="#fff" stroke-width="0.3" opacity="1"/>
<rect x="336.00" y="271.00" width="5.00" height="21.60" rx="2.50" fill="rgba(255,255,255,0.5)" stroke="#666" stroke-width="0.75" opacity="1"/>
<rect x="337.40" y="274.00" width="2.40" height="10.00" rx="1.20" fill="#eee" stroke="#ddd" stroke-width="0.3" opacity="1"/>
<rect x="336.40" y="285.00" width="4.20" height="7.00" rx="2.10" fill="#fff" stroke="#2a2a2a" stroke-width="0.95" opacity="1"/>
</g>
</g>
<rect x="313.6" y="230.4" width="84.0" height="82.6" fill="none" stroke="#a6a6a6" stroke-width="0.7"/>
<line x1="312.6" y1="232.4" x2="312.6" y2="311.0" stroke="#aaa" stroke-width="1.4" stroke-dasharray="0.6 1.6"/>
<line x1="315.6" y1="314.0" x2="395.6" y2="314.0" stroke="#aaa" stroke-width="1.4" stroke-dasharray="0.6 1.6"/>
<line x1="351.60" y1="230.40" x2="351.60" y2="313.00" stroke="#2a2a2a" stroke-width="0.75" />
<line x1="313.60" y1="276.00" x2="397.60" y2="276.00" stroke="#2a2a2a" stroke-width="0.75" />
<text x="314.50" y="237.80" font-size="7.8" text-anchor="start" font-weight="normal" fill="#333" >35%</text>
<text x="396.00" y="237.80" font-size="7.8" text-anchor="end" font-weight="normal" fill="#333" >56%</text>
<text x="317.20" y="311.00" font-size="7.8" text-anchor="start" font-weight="normal" fill="#333" >6%</text>
<text x="393.60" y="311.00" font-size="7.8" text-anchor="end" font-weight="normal" fill="#333" >3%</text>
<text x="307.60" y="253.00" font-size="7.3" text-anchor="end" font-weight="normal" fill="#1c1c1c" >10<tspan dy="-2.6" font-size="5">4</tspan></text>
<text x="307.60" y="278.20" font-size="7.3" text-anchor="end" font-weight="normal" fill="#1c1c1c" >10<tspan dy="-2.6" font-size="5">3</tspan></text>
<text x="304.20" y="294.40" font-size="7.3" text-anchor="end" font-weight="normal" fill="#1c1c1c" >0</text>
<text x="307.60" y="310.00" font-size="7.3" text-anchor="end" font-weight="normal" fill="#1c1c1c" >−10<tspan dy="-2.6" font-size="5">3</tspan></text>
<text x="317.40" y="325.60" font-size="7.3" text-anchor="middle" font-weight="normal" fill="#1c1c1c" >−10<tspan dy="-2.6" font-size="5">3</tspan></text>
<text x="335.00" y="325.60" font-size="7.3" text-anchor="middle" font-weight="normal" fill="#1c1c1c" >0</text>
<text x="350.60" y="325.60" font-size="7.3" text-anchor="middle" font-weight="normal" fill="#1c1c1c" >10<tspan dy="-2.6" font-size="5">3</tspan></text>
<text x="377.00" y="325.60" font-size="7.3" text-anchor="middle" font-weight="normal" fill="#1c1c1c" >10<tspan dy="-2.6" font-size="5">4</tspan></text>
<rect x="311.40" y="290.40" width="2.20" height="4.40" fill="#111" />
<rect x="332.80" y="313.00" width="4.40" height="2.20" fill="#111" />
<g filter="url(#b0)">
<path d="M500.60 241.90 C503.28 242.25 505.70 244.32 506.60 246.50 C507.50 248.68 506.52 252.35 506.00 255.00 C505.48 257.65 505.12 259.23 503.50 262.40 C501.88 265.57 498.58 270.63 496.30 274.00 C494.02 277.37 491.97 282.13 489.80 282.60 C487.63 283.07 485.95 278.97 483.30 276.80 C480.65 274.63 475.53 272.00 473.90 269.60 C472.27 267.20 472.18 265.52 473.50 262.40 C474.82 259.28 478.97 253.90 481.80 250.90 C484.63 247.90 487.37 245.90 490.50 244.40 C493.63 242.90 497.92 241.55 500.60 241.90Z" fill="rgba(120,120,120,0.045)" stroke="#9c9c9c" stroke-width="0.50"/>
<path d="M499.65 243.54 C502.03 243.84 504.16 245.65 504.95 247.58 C505.74 249.50 504.88 252.74 504.40 255.08 C503.93 257.43 503.57 258.87 502.11 261.67 C500.66 264.47 497.72 268.94 495.67 271.90 C493.62 274.86 491.76 279.03 489.83 279.44 C487.90 279.85 486.42 276.26 484.10 274.36 C481.77 272.47 477.30 270.17 475.87 268.06 C474.45 265.95 474.36 264.47 475.53 261.73 C476.70 258.98 480.37 254.25 482.89 251.59 C485.42 248.93 487.89 247.11 490.68 245.77 C493.47 244.43 497.27 243.24 499.65 243.54Z" fill="rgba(120,120,120,0.045)" stroke="#969696" stroke-width="0.50"/>
<path d="M498.70 245.18 C500.77 245.43 502.61 246.99 503.30 248.66 C503.98 250.32 503.24 253.12 502.81 255.17 C502.38 257.22 502.02 258.51 500.73 260.94 C499.43 263.38 496.85 267.25 495.04 269.80 C493.23 272.35 491.55 275.92 489.86 276.27 C488.17 276.63 486.90 273.55 484.90 271.93 C482.89 270.30 479.07 268.33 477.85 266.52 C476.63 264.71 476.54 263.43 477.56 261.06 C478.58 258.68 481.77 254.59 483.98 252.27 C486.20 249.95 488.41 248.33 490.86 247.14 C493.32 245.96 496.62 244.92 498.70 245.18Z" fill="rgba(120,120,120,0.045)" stroke="#919191" stroke-width="0.50"/>
<path d="M497.81 246.70 C499.60 246.90 501.18 248.23 501.76 249.66 C502.35 251.08 501.71 253.48 501.33 255.25 C500.94 257.01 500.59 258.17 499.44 260.27 C498.30 262.37 496.05 265.67 494.45 267.85 C492.86 270.03 491.35 273.03 489.88 273.33 C488.41 273.64 487.34 271.04 485.64 269.67 C483.94 268.29 480.71 266.63 479.68 265.09 C478.65 263.55 478.56 262.46 479.44 260.43 C480.33 258.40 483.07 254.91 485.00 252.91 C486.93 250.91 488.90 249.45 491.03 248.42 C493.17 247.38 496.02 246.49 497.81 246.70Z" fill="rgba(120,120,120,0.045)" stroke="#8c8c8c" stroke-width="0.50"/>
<path d="M497.00 248.10 C498.52 248.27 499.85 249.38 500.35 250.58 C500.84 251.78 500.31 253.81 499.96 255.32 C499.61 256.83 499.26 257.86 498.25 259.64 C497.25 261.43 495.31 264.22 493.92 266.05 C492.52 267.88 491.17 270.37 489.91 270.62 C488.64 270.88 487.74 268.72 486.32 267.58 C484.90 266.44 482.23 265.06 481.37 263.77 C480.52 262.48 480.42 261.57 481.19 259.86 C481.95 258.14 484.27 255.21 485.93 253.50 C487.60 251.79 489.35 250.49 491.19 249.59 C493.03 248.69 495.47 247.94 497.00 248.10Z" fill="rgba(120,120,120,0.045)" stroke="#868686" stroke-width="0.50"/>
<path d="M496.32 249.27 C497.62 249.40 498.75 250.33 499.17 251.35 C499.58 252.37 499.14 254.08 498.82 255.38 C498.50 256.67 498.16 257.60 497.26 259.12 C496.37 260.65 494.69 263.01 493.47 264.55 C492.24 266.09 491.02 268.15 489.93 268.36 C488.83 268.58 488.08 266.79 486.89 265.84 C485.70 264.89 483.49 263.75 482.78 262.67 C482.07 261.59 481.98 260.82 482.63 259.38 C483.29 257.93 485.27 255.45 486.71 253.99 C488.16 252.52 489.72 251.36 491.32 250.57 C492.92 249.79 495.01 249.14 496.32 249.27Z" fill="rgba(120,120,120,0.045)" stroke="#818181" stroke-width="0.50"/>
<path d="M495.77 250.21 C496.91 250.31 497.87 251.10 498.22 251.97 C498.58 252.84 498.20 254.30 497.91 255.43 C497.61 256.55 497.27 257.39 496.47 258.71 C495.67 260.03 494.19 262.04 493.11 263.35 C492.02 264.66 490.90 266.37 489.94 266.55 C488.98 266.74 488.35 265.24 487.35 264.45 C486.34 263.65 484.50 262.70 483.91 261.79 C483.32 260.88 483.22 260.23 483.80 258.99 C484.37 257.76 486.07 255.65 487.34 254.38 C488.61 253.11 490.02 252.05 491.42 251.36 C492.83 250.66 494.64 250.11 495.77 250.21Z" fill="rgba(120,120,120,0.045)" stroke="#7c7c7c" stroke-width="0.50"/>
<path d="M495.30 251.03 C496.28 251.10 497.09 251.77 497.40 252.51 C497.70 253.25 497.38 254.50 497.11 255.47 C496.84 256.44 496.50 257.21 495.78 258.34 C495.06 259.48 493.76 261.20 492.79 262.30 C491.82 263.40 490.80 264.82 489.96 264.97 C489.12 265.13 488.59 263.89 487.75 263.23 C486.90 262.57 485.39 261.78 484.90 261.02 C484.41 260.26 484.31 259.71 484.81 258.66 C485.31 257.61 486.77 255.82 487.88 254.72 C489.00 253.62 490.28 252.66 491.51 252.04 C492.75 251.43 494.32 250.95 495.30 251.03Z" fill="rgba(120,120,120,0.045)" stroke="#767676" stroke-width="0.50"/>
<path d="M494.89 251.73 C495.74 251.78 496.43 252.34 496.69 252.97 C496.94 253.60 496.67 254.66 496.42 255.50 C496.17 256.35 495.83 257.05 495.18 258.03 C494.53 259.01 493.39 260.47 492.52 261.40 C491.65 262.33 490.71 263.49 489.97 263.62 C489.23 263.75 488.79 262.73 488.09 262.18 C487.38 261.64 486.15 261.00 485.74 260.36 C485.34 259.72 485.25 259.26 485.68 258.37 C486.11 257.48 487.37 255.97 488.35 255.02 C489.34 254.06 490.50 253.18 491.59 252.63 C492.68 252.08 494.04 251.67 494.89 251.73Z" fill="rgba(120,120,120,0.045)" stroke="#717171" stroke-width="0.50"/>
<path d="M494.48 252.43 C495.20 252.47 495.77 252.91 495.98 253.43 C496.19 253.95 495.97 254.82 495.74 255.54 C495.51 256.25 495.17 256.89 494.59 257.72 C494.01 258.55 493.02 259.74 492.25 260.50 C491.48 261.26 490.62 262.15 489.98 262.26 C489.34 262.37 489.00 261.57 488.43 261.14 C487.87 260.71 486.90 260.21 486.59 259.70 C486.28 259.19 486.18 258.81 486.55 258.08 C486.92 257.35 487.97 256.12 488.82 255.31 C489.67 254.50 490.73 253.70 491.67 253.22 C492.61 252.74 493.76 252.40 494.48 252.43Z" fill="rgba(120,120,120,0.045)" stroke="#6c6c6c" stroke-width="0.50"/>
<ellipse cx="491.3" cy="256.6" rx="2.6" ry="1.3" fill="#fff" transform="rotate(-45 491.3 256.6)"/>
<path d="M459.4 278 C463 281 466.5 285 465.6 290 C465 293 462 294.5 459 294" fill="none" stroke="#aaa" stroke-width="0.45"/>
<path d="M459.2 280 C462 283 464.4 286 463.8 290 C463.4 292 461 293.5 459 293.4" fill="none" stroke="#bbb" stroke-width="0.45"/>
<g filter="url(#b3)">
<rect x="448.80" y="241.20" width="11.00" height="53.20" rx="5.50" fill="rgba(90,90,90,0.20)" stroke="#a0a0a0" stroke-width="0.7" opacity="1"/>
<rect x="449.80" y="242.60" width="9.00" height="51.20" rx="4.50" fill="rgba(80,80,80,0.16)" stroke="#8a8a8a" stroke-width="0.6" opacity="1"/>
<rect x="450.80" y="244.20" width="7.00" height="49.00" rx="3.50" fill="rgba(70,70,70,0.16)" stroke="#6e6e6e" stroke-width="0.6" opacity="1"/>
<rect x="451.80" y="246.00" width="5.00" height="46.60" rx="2.50" fill="none" stroke="#666" stroke-width="0.6" opacity="1"/>
</g>
<g filter="url(#b5)">
<path d="M450.5 273 V288.4 A3.75 3.75 0 0 0 458.0 288.4 V273" fill="none" stroke="#080808" stroke-width="1.9" opacity="0.94"/>
<path d="M450.6 258 V274 M457.9 262 V274" fill="none" stroke="#333" stroke-width="1.0" opacity="0.6"/>
<rect x="453.10" y="249.00" width="2.00" height="41.40" rx="1.00" fill="#fff" stroke="#fff" stroke-width="0.2" opacity="0.9"/>
</g>
</g>
<rect x="429.0" y="230.4" width="83.70000000000005" height="82.99999999999997" fill="none" stroke="#a6a6a6" stroke-width="0.7"/>
<line x1="428.0" y1="232.4" x2="428.0" y2="311.4" stroke="#aaa" stroke-width="1.4" stroke-dasharray="0.6 1.6"/>
<line x1="431.0" y1="314.4" x2="510.70000000000005" y2="314.4" stroke="#aaa" stroke-width="1.4" stroke-dasharray="0.6 1.6"/>
<line x1="466.90" y1="230.40" x2="466.90" y2="313.40" stroke="#2a2a2a" stroke-width="0.75" />
<line x1="429.00" y1="276.30" x2="512.70" y2="276.30" stroke="#2a2a2a" stroke-width="0.75" />
<text x="431.40" y="237.80" font-size="7.8" text-anchor="start" font-weight="normal" fill="#333" >22%</text>
<text x="511.10" y="237.80" font-size="7.8" text-anchor="end" font-weight="normal" fill="#333" >44%</text>
<text x="432.00" y="311.40" font-size="7.8" text-anchor="start" font-weight="normal" fill="#333" >30%</text>
<text x="508.70" y="311.40" font-size="7.8" text-anchor="end" font-weight="normal" fill="#333" >4%</text>
<text x="423.80" y="253.00" font-size="7.3" text-anchor="end" font-weight="normal" fill="#1c1c1c" >10<tspan dy="-2.6" font-size="5">4</tspan></text>
<text x="423.80" y="278.50" font-size="7.3" text-anchor="end" font-weight="normal" fill="#1c1c1c" >10<tspan dy="-2.6" font-size="5">3</tspan></text>
<text x="420.40" y="294.40" font-size="7.3" text-anchor="end" font-weight="normal" fill="#1c1c1c" >0</text>
<text x="423.80" y="310.00" font-size="7.3" text-anchor="end" font-weight="normal" fill="#1c1c1c" >−10<tspan dy="-2.6" font-size="5">3</tspan></text>
<text x="432.60" y="326.00" font-size="7.3" text-anchor="middle" font-weight="normal" fill="#1c1c1c" >−10<tspan dy="-2.6" font-size="5">3</tspan></text>
<text x="451.20" y="326.00" font-size="7.3" text-anchor="middle" font-weight="normal" fill="#1c1c1c" >0</text>
<text x="465.60" y="326.00" font-size="7.3" text-anchor="middle" font-weight="normal" fill="#1c1c1c" >10<tspan dy="-2.6" font-size="5">3</tspan></text>
<text x="492.20" y="326.00" font-size="7.3" text-anchor="middle" font-weight="normal" fill="#1c1c1c" >10<tspan dy="-2.6" font-size="5">4</tspan></text>
<rect x="426.80" y="290.40" width="2.20" height="4.40" fill="#111" />
<rect x="449.00" y="313.40" width="4.40" height="2.20" fill="#111" />
<text transform="translate(169.20,308.40) rotate(-90) scale(0.56,1)" font-size="9.6" text-anchor="middle" font-weight="bold" fill="#222">CD71</text>
<line x1="166.00" y1="270.00" x2="166.00" y2="298.00" stroke="#222" stroke-width="0.9" />
<path d="M166 265.6 L168.2 271.4 L163.8 271.4 Z" fill="#222"/>
<text transform="translate(191.3,337.8) scale(0.595,1)" font-size="9.6" font-weight="bold" fill="#222">CD235a</text>
<line x1="215.60" y1="334.60" x2="237.00" y2="334.60" stroke="#222" stroke-width="0.9" />
<path d="M241.2 334.6 L235.4 332.4 L235.4 336.8 Z" fill="#222"/>
<rect x="265.90" y="496.50" width="6.00" height="41.70" fill="#f39ac1" />
<rect x="276.50" y="500.67" width="6.00" height="37.53" fill="#6f9283" />
<rect x="287.10" y="471.48" width="6.00" height="66.72" fill="#c3cfc8" />
<line x1="279.50" y1="504.84" x2="279.50" y2="494.00" stroke="#333" stroke-width="0.8" />
<line x1="277.50" y1="494.00" x2="281.50" y2="494.00" stroke="#333" stroke-width="0.8" />
<line x1="277.50" y1="504.84" x2="281.50" y2="504.84" stroke="#333" stroke-width="0.8" />
<line x1="290.10" y1="475.65" x2="290.10" y2="458.97" stroke="#333" stroke-width="0.8" />
<line x1="288.10" y1="458.97" x2="292.10" y2="458.97" stroke="#333" stroke-width="0.8" />
<line x1="288.10" y1="475.65" x2="292.10" y2="475.65" stroke="#333" stroke-width="0.8" />
<rect x="265.20" y="494.40" width="7.4" height="4.2" rx="2.1" fill="#0a0a0a"/>
<rect x="305.10" y="496.50" width="6.00" height="41.70" fill="#f39ac1" />
<rect x="315.70" y="515.06" width="6.00" height="23.14" fill="#6f9283" />
<rect x="326.30" y="527.15" width="6.00" height="11.05" fill="#c3cfc8" />
<line x1="318.70" y1="517.77" x2="318.70" y2="510.68" stroke="#333" stroke-width="0.8" />
<line x1="316.70" y1="510.68" x2="320.70" y2="510.68" stroke="#333" stroke-width="0.8" />
<line x1="316.70" y1="517.77" x2="320.70" y2="517.77" stroke="#333" stroke-width="0.8" />
<rect x="304.40" y="494.40" width="7.4" height="4.2" rx="2.1" fill="#0a0a0a"/>
<rect x="344.50" y="496.50" width="6.00" height="41.70" fill="#f39ac1" />
<rect x="355.10" y="511.51" width="6.00" height="26.69" fill="#6f9283" />
<rect x="365.70" y="526.32" width="6.00" height="11.88" fill="#c3cfc8" />
<line x1="358.10" y1="515.27" x2="358.10" y2="506.93" stroke="#333" stroke-width="0.8" />
<line x1="356.10" y1="506.93" x2="360.10" y2="506.93" stroke="#333" stroke-width="0.8" />
<line x1="356.10" y1="515.27" x2="360.10" y2="515.27" stroke="#333" stroke-width="0.8" />
<line x1="368.70" y1="529.86" x2="368.70" y2="522.35" stroke="#333" stroke-width="0.8" />
<line x1="366.70" y1="522.35" x2="370.70" y2="522.35" stroke="#333" stroke-width="0.8" />
<line x1="366.70" y1="529.86" x2="370.70" y2="529.86" stroke="#333" stroke-width="0.8" />
<rect x="343.80" y="494.40" width="7.4" height="4.2" rx="2.1" fill="#0a0a0a"/>
<rect x="383.80" y="496.50" width="6.00" height="41.70" fill="#f39ac1" />
<rect x="394.40" y="504.42" width="6.00" height="33.78" fill="#6f9283" />
<rect x="405.00" y="519.44" width="6.00" height="18.77" fill="#c3cfc8" />
<line x1="397.40" y1="511.93" x2="397.40" y2="494.83" stroke="#333" stroke-width="0.8" />
<line x1="395.40" y1="494.83" x2="399.40" y2="494.83" stroke="#333" stroke-width="0.8" />
<line x1="395.40" y1="511.93" x2="399.40" y2="511.93" stroke="#333" stroke-width="0.8" />
<line x1="408.00" y1="521.52" x2="408.00" y2="515.27" stroke="#333" stroke-width="0.8" />
<line x1="406.00" y1="515.27" x2="410.00" y2="515.27" stroke="#333" stroke-width="0.8" />
<line x1="406.00" y1="521.52" x2="410.00" y2="521.52" stroke="#333" stroke-width="0.8" />
<rect x="383.10" y="494.40" width="7.4" height="4.2" rx="2.1" fill="#0a0a0a"/>
<path d="M279.30 487.35 L281.35 489.40 L279.30 491.45 L277.25 489.40Z" fill="#0a0a0a"/>
<path d="M278.20 500.15 L280.25 502.20 L278.20 504.25 L276.15 502.20Z" fill="#0a0a0a"/>
<path d="M280.60 500.55 L282.65 502.60 L280.60 504.65 L278.55 502.60Z" fill="#0a0a0a"/>
<path d="M290.20 450.45 L292.35 454.43 L288.05 454.43Z" fill="#0a0a0a"/>
<path d="M290.20 466.85 L292.35 470.83 L288.05 470.83Z" fill="#0a0a0a"/>
<path d="M290.20 477.85 L292.35 481.83 L288.05 481.83Z" fill="#0a0a0a"/>
<path d="M318.40 504.75 L320.45 506.80 L318.40 508.85 L316.35 506.80Z" fill="#0a0a0a"/>
<path d="M316.60 513.35 L318.65 515.40 L316.60 517.45 L314.55 515.40Z" fill="#0a0a0a"/>
<path d="M320.30 513.35 L322.35 515.40 L320.30 517.45 L318.25 515.40Z" fill="#0a0a0a"/>
<path d="M329.70 523.05 L331.85 527.03 L327.55 527.03Z" fill="#0a0a0a"/>
<path d="M330.60 523.65 L332.75 527.63 L328.45 527.63Z" fill="#0a0a0a"/>
<path d="M330.00 524.45 L332.15 528.43 L327.85 528.43Z" fill="#0a0a0a"/>
<path d="M358.10 502.45 L360.15 504.50 L358.10 506.55 L356.05 504.50Z" fill="#0a0a0a"/>
<path d="M358.10 506.75 L360.15 508.80 L358.10 510.85 L356.05 508.80Z" fill="#0a0a0a"/>
<path d="M358.10 513.75 L360.15 515.80 L358.10 517.85 L356.05 515.80Z" fill="#0a0a0a"/>
<path d="M368.70 517.05 L370.85 521.03 L366.55 521.03Z" fill="#0a0a0a"/>
<path d="M370.40 522.25 L372.55 526.23 L368.25 526.23Z" fill="#0a0a0a"/>
<path d="M367.60 525.45 L369.75 529.43 L365.45 529.43Z" fill="#0a0a0a"/>
<path d="M397.50 484.25 L399.55 486.30 L397.50 488.35 L395.45 486.30Z" fill="#0a0a0a"/>
<path d="M395.50 510.65 L397.55 512.70 L395.50 514.75 L393.45 512.70Z" fill="#0a0a0a"/>
<path d="M399.50 510.65 L401.55 512.70 L399.50 514.75 L397.45 512.70Z" fill="#0a0a0a"/>
<path d="M407.20 511.85 L409.35 515.83 L405.05 515.83Z" fill="#0a0a0a"/>
<path d="M410.30 513.65 L412.45 517.63 L408.15 517.63Z" fill="#0a0a0a"/>
<path d="M408.20 517.65 L410.35 521.63 L406.05 521.63Z" fill="#0a0a0a"/>
<line x1="261.00" y1="432.30" x2="261.00" y2="538.60" stroke="#1a1a1a" stroke-width="0.8" />
<line x1="260.60" y1="538.20" x2="416.30" y2="538.20" stroke="#1a1a1a" stroke-width="0.8" />
<line x1="258.00" y1="538.20" x2="261.00" y2="538.20" stroke="#1a1a1a" stroke-width="0.8" />
<line x1="259.00" y1="517.35" x2="261.00" y2="517.35" stroke="#1a1a1a" stroke-width="0.8" />
<line x1="258.00" y1="496.50" x2="261.00" y2="496.50" stroke="#1a1a1a" stroke-width="0.8" />
<line x1="259.00" y1="475.65" x2="261.00" y2="475.65" stroke="#1a1a1a" stroke-width="0.8" />
<line x1="258.00" y1="454.80" x2="261.00" y2="454.80" stroke="#1a1a1a" stroke-width="0.8" />
<line x1="259.00" y1="433.95" x2="261.00" y2="433.95" stroke="#1a1a1a" stroke-width="0.8" />
<text x="256.60" y="540.80" font-size="7.4" text-anchor="end" font-weight="normal" fill="#1c1c1c" >0</text>
<text x="256.60" y="499.10" font-size="7.4" text-anchor="end" font-weight="normal" fill="#1c1c1c" >1</text>
<text x="256.60" y="457.40" font-size="7.4" text-anchor="end" font-weight="normal" fill="#1c1c1c" >2</text>
<text transform="translate(245.50,484.50) rotate(-90) scale(0.83,1)" font-size="7.2" text-anchor="middle" font-weight="normal" fill="#1c1c1c" stroke="#1c1c1c" stroke-width="0.25">Fold change</text>
<line x1="279.50" y1="538.20" x2="279.50" y2="540.80" stroke="#1a1a1a" stroke-width="0.8" />
<line x1="318.70" y1="538.20" x2="318.70" y2="540.80" stroke="#1a1a1a" stroke-width="0.8" />
<line x1="358.10" y1="538.20" x2="358.10" y2="540.80" stroke="#1a1a1a" stroke-width="0.8" />
<line x1="397.40" y1="538.20" x2="397.40" y2="540.80" stroke="#1a1a1a" stroke-width="0.8" />
<path d="M268.4 423.9 V418 H290.4 V423.9" fill="none" stroke="#333" stroke-width="0.8"/>
<path d="M279.3 486 V439.9 H290.4 V449.5" fill="none" stroke="#333" stroke-width="0.8"/>
<path d="M307.3 423.9 V418 H329.3 V522.8" fill="none" stroke="#333" stroke-width="0.8"/>
<path d="M307.3 493.4 V439.9 H318.3 V503.6" fill="none" stroke="#333" stroke-width="0.8"/>
<path d="M346.8 493.4 V439.9 H368.7 V515.8" fill="none" stroke="#333" stroke-width="0.8"/>
<path d="M386.4 493.4 V439.9 H408.5 V510.6" fill="none" stroke="#333" stroke-width="0.8"/>
<text x="279.50" y="417.60" font-size="7.6" text-anchor="middle" font-weight="bold" fill="#1c1c1c" >****</text>
<text x="285.00" y="439.60" font-size="7.6" text-anchor="middle" font-weight="bold" fill="#1c1c1c" >****</text>
<text x="318.50" y="417.60" font-size="7.6" text-anchor="middle" font-weight="bold" fill="#1c1c1c" >****</text>
<text x="312.80" y="439.60" font-size="7.6" text-anchor="middle" font-weight="bold" fill="#1c1c1c" >*</text>
<text x="358.00" y="439.60" font-size="7.6" text-anchor="middle" font-weight="bold" fill="#1c1c1c" >***</text>
<text x="397.50" y="439.60" font-size="7.6" text-anchor="middle" font-weight="bold" fill="#1c1c1c" >**</text>
<text transform="translate(280.30,544.10) rotate(-45) scale(1.0,1)" font-size="8.1" text-anchor="end" font-weight="normal" fill="#1c1c1c">CD71<tspan dy="-3" font-size="5.5">−</tspan><tspan dy="3">CD235a</tspan><tspan dy="-3" font-size="5.5">−</tspan></text>
<text transform="translate(319.50,544.10) rotate(-45) scale(1.0,1)" font-size="8.1" text-anchor="end" font-weight="normal" fill="#1c1c1c">CD71<tspan dy="-3" font-size="5.5">+</tspan><tspan dy="3">CD235a</tspan><tspan dy="-3" font-size="5.5">−</tspan></text>
<text transform="translate(358.90,544.10) rotate(-45) scale(1.0,1)" font-size="8.1" text-anchor="end" font-weight="normal" fill="#1c1c1c">CD71<tspan dy="-3" font-size="5.5">+</tspan><tspan dy="3">CD235a</tspan><tspan dy="-3" font-size="5.5">+</tspan></text>
<text transform="translate(398.20,544.10) rotate(-45) scale(1.0,1)" font-size="8.1" text-anchor="end" font-weight="normal" fill="#1c1c1c">CD71<tspan dy="-3" font-size="5.5">−</tspan><tspan dy="3">CD235a</tspan><tspan dy="-3" font-size="5.5">+</tspan></text>
<circle cx="426.5" cy="435.2" r="2.1" fill="#0a0a0a"/>
<path d="M426.50 443.80 L428.70 446.00 L426.50 448.20 L424.30 446.00Z" fill="#0a0a0a"/>
<path d="M426.50 454.20 L428.70 458.27 L424.30 458.27Z" fill="#0a0a0a"/>
<text x="432.20" y="437.70" font-size="6.9" text-anchor="start" font-weight="normal" fill="#1c1c1c" >Control</text>
<text x="432.20" y="448.50" font-size="6.9" text-anchor="start" font-weight="normal" fill="#1c1c1c" >1 µm Chir</text>
<text x="432.20" y="459.10" font-size="6.9" text-anchor="start" font-weight="normal" fill="#1c1c1c" >10 µm Chir</text>
</svg>
</body></html>
